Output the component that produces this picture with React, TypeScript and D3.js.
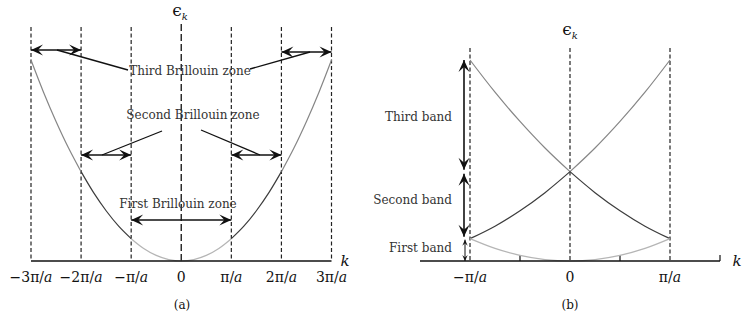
import React from 'react';
import * as d3 from 'd3';

// k in units of pi/a, energy in units of (pi/a)^2 (free electron)
const zoneEdgesA = [-3, -2, -1, 0, 1, 2, 3];
const tickLabelsA = ['−3π/', '−2π/', '−π/', '0', 'π/', '2π/', '3π/'];
const zone1 = [[-1, 1], [-0.75, 0.5625], [-0.5, 0.25], [-0.25, 0.0625], [0, 0], [0.25, 0.0625], [0.5, 0.25], [0.75, 0.5625], [1, 1]];
const zone2L = [[-2, 4], [-1.75, 3.06], [-1.5, 2.25], [-1.25, 1.56], [-1, 1]];
const zone2R = [[1, 1], [1.25, 1.56], [1.5, 2.25], [1.75, 3.06], [2, 4]];
const zone3L = [[-3, 9], [-2.75, 7.56], [-2.5, 6.25], [-2.25, 5.06], [-2, 4]];
const zone3R = [[2, 4], [2.25, 5.06], [2.5, 6.25], [2.75, 7.56], [3, 9]];

const edgesB = [-1, 0, 1];
const minorTicksB = [-0.5, 0.5, 1.5];
const tickLabelsB = ['−π/', '0', 'π/'];
const band1 = zone1;
const band2L = [[-1, 1], [-0.75, 1.56], [-0.5, 2.25], [-0.25, 3.06], [0, 4]];
const band2R = [[0, 4], [0.25, 3.06], [0.5, 2.25], [0.75, 1.56], [1, 1]];
const band3L = [[-1, 9], [-0.75, 7.56], [-0.5, 6.25], [-0.25, 5.06], [0, 4]];
const band3R = [[0, 4], [0.25, 5.06], [0.5, 6.25], [0.75, 7.56], [1, 9]];

const C1 = '#b5b5b5';
const C2 = '#3c3c3c';
const C3 = '#868686';
const FONT = '"DejaVu Serif", serif';

function Arrow({ x1, y1, x2, y2, start = true, size = 1 }: any) {
  const a = Math.atan2(y2 - y1, x2 - x1);
  const head = (x: number, y: number, ang: number) => {
    const L = 12 * size, W = 5.5 * size, B = 7 * size;
    const pt = (dx: number, dy: number) => {
      const c = Math.cos(ang), s = Math.sin(ang);
      return [x + dx * c - dy * s, y + dx * s + dy * c];
    };
    const p = [pt(0, 0), pt(-L, -W), pt(-B, 0), pt(-L, W)];
    return 'M' + p.map(q => q.join(',')).join('L') + 'Z';
  };
  return (
    <g>
      <line x1={x1} y1={y1} x2={x2} y2={y2} stroke="#111" strokeWidth={size > 0.7 ? 1.6 : 1} />
      <path d={head(x2, y2, a)} fill="#111" />
      {start && <path d={head(x1, y1, a + Math.PI)} fill="#111" />}
    </g>
  );
}

function TickLabel({ x, y, text }: any) {
  return (
    <text x={x} y={y} textAnchor="middle" fontFamily={FONT} fontSize={14} fill="#111">
      {text}
      {text !== '0' && <tspan fontStyle="italic">a</tspan>}
    </text>
  );
}

function Eps({ x, y }: any) {
  return (
    <text x={x} y={y} textAnchor="middle" fontFamily={FONT} fontSize={17} fill="#111">
      ϵ<tspan fontStyle="italic" fontSize={10} dy={4}>k</tspan>
    </text>
  );
}

export default function App() {
  const yE = d3.scaleLinear().domain([0, 9]).range([261, 60]);
  const xA = d3.scaleLinear().domain([-3, 3]).range([31, 331.5]);
  const xB = d3.scaleLinear().domain([-1.5, 1.5]).range([420, 720]);
  const lineA = d3.line<number[]>().x(d => xA(d[0])).y(d => yE(d[1])).curve(d3.curveCatmullRom);
  const lineB = d3.line<number[]>().x(d => xB(d[0])).y(d => yE(d[1])).curve(d3.curveCatmullRom);
  const txt = { fontFamily: FONT, fontSize: 12, fill: '#333' } as any;

  return (
    <div style={{ position: 'absolute', left: 0, top: 0 }}>
      <svg width={742} height={323} style={{ display: 'block', background: '#fff' }}>
        {/* panel (a) */}
        {zoneEdgesA.map(k => (
          <line key={k} x1={xA(k)} x2={xA(k)} y1={k === 0 ? 24 : 27} y2={yE(0)}
            stroke="#222" strokeWidth={k === 0 ? 1.4 : 1.2}
            strokeDasharray={k === 0 ? '7,3' : '4,2.5'} />
        ))}
        <path d={lineA(zone3L)!} fill="none" stroke={C3} strokeWidth={1.2} />
        <path d={lineA(zone3R)!} fill="none" stroke={C3} strokeWidth={1.2} />
        <path d={lineA(zone2L)!} fill="none" stroke={C2} strokeWidth={1.2} />
        <path d={lineA(zone2R)!} fill="none" stroke={C2} strokeWidth={1.2} />
        <path d={lineA(zone1)!} fill="none" stroke={C1} strokeWidth={1.2} />
        <line x1={xA(-3)} x2={xA(3)} y1={yE(0)} y2={yE(0)} stroke="#111" strokeWidth={1.6} />
        {zoneEdgesA.map((k, i) => (
          <TickLabel key={k} x={xA(k)} y={282} text={tickLabelsA[i]} />
        ))}
        <text x={345} y={266} fontFamily={FONT} fontStyle="italic" fontSize={15} fill="#111" textAnchor="middle">k</text>
        <Eps x={180} y={16} />
        <text x={182} y={309} textAnchor="middle" fontFamily={FONT} fontSize={12} fill="#111">(a)</text>

        <Arrow x1={xA(-3)} y1={50} x2={xA(-2)} y2={50} />
        <Arrow x1={xA(2)} y1={52} x2={xA(3)} y2={52} />
        <line x1={57} y1={50} x2={128} y2={70} stroke="#111" strokeWidth={1.3} />
        <line x1={250} y1={69} x2={310} y2={52} stroke="#111" strokeWidth={1.3} />
        <text x={190} y={75} textAnchor="middle" {...txt}>Third Brillouin zone</text>

        <text x={193} y={119} textAnchor="middle" {...txt}>Second Brillouin zone</text>
        <line x1={162} y1={131} x2={102} y2={155} stroke="#111" strokeWidth={1.3} />
        <line x1={201} y1={130} x2={260} y2={155} stroke="#111" strokeWidth={1.3} />
        <Arrow x1={xA(-2)} y1={155} x2={xA(-1)} y2={155} />
        <Arrow x1={xA(1)} y1={155} x2={xA(2)} y2={155} />

        <text x={178} y={208} textAnchor="middle" {...txt}>First Brillouin zone</text>
        <Arrow x1={xA(-1)} y1={220} x2={xA(1)} y2={220} />

        {/* panel (b) */}
        {edgesB.map(k => (
          <line key={k} x1={xB(k)} x2={xB(k)} y1={48} y2={yE(0)}
            stroke="#222" strokeWidth={1.2} strokeDasharray="4,2.5" />
        ))}
        {minorTicksB.map(k => (
          <line key={k} x1={xB(k)} x2={xB(k)} y1={yE(0) - 6} y2={yE(0)} stroke="#111" strokeWidth={1.2} />
        ))}
        <path d={lineB(band3L)!} fill="none" stroke={C3} strokeWidth={1.2} />
        <path d={lineB(band3R)!} fill="none" stroke={C3} strokeWidth={1.2} />
        <path d={lineB(band2L)!} fill="none" stroke={C2} strokeWidth={1.2} />
        <path d={lineB(band2R)!} fill="none" stroke={C2} strokeWidth={1.2} />
        <path d={lineB(band1)!} fill="none" stroke={C1} strokeWidth={1.2} />
        <line x1={xB(-1.5)} x2={xB(1.5)} y1={yE(0)} y2={yE(0)} stroke="#111" strokeWidth={1.6} />
        {edgesB.map((k, i) => (
          <TickLabel key={k} x={xB(k)} y={282} text={tickLabelsB[i]} />
        ))}
        <text x={737} y={266} fontFamily={FONT} fontStyle="italic" fontSize={15} fill="#111" textAnchor="middle">k</text>
        <Eps x={570} y={35} />
        <text x={570} y={309} textAnchor="middle" fontFamily={FONT} fontSize={12} fill="#111">(b)</text>

        <Arrow x1={464} y1={yE(4) - 2} x2={464} y2={yE(9)} />
        <Arrow x1={464} y1={yE(1) - 2} x2={464} y2={yE(4) + 2} />
        <Arrow x1={465} y1={yE(0)} x2={465} y2={yE(1) + 1} size={0.5} />
        <text x={452} y={121} textAnchor="end" {...txt}>Third band</text>
        <text x={452} y={204} textAnchor="end" {...txt}>Second band</text>
        <text x={452} y={252} textAnchor="end" {...txt}>First band</text>
      </svg>
    </div>
  );
}
